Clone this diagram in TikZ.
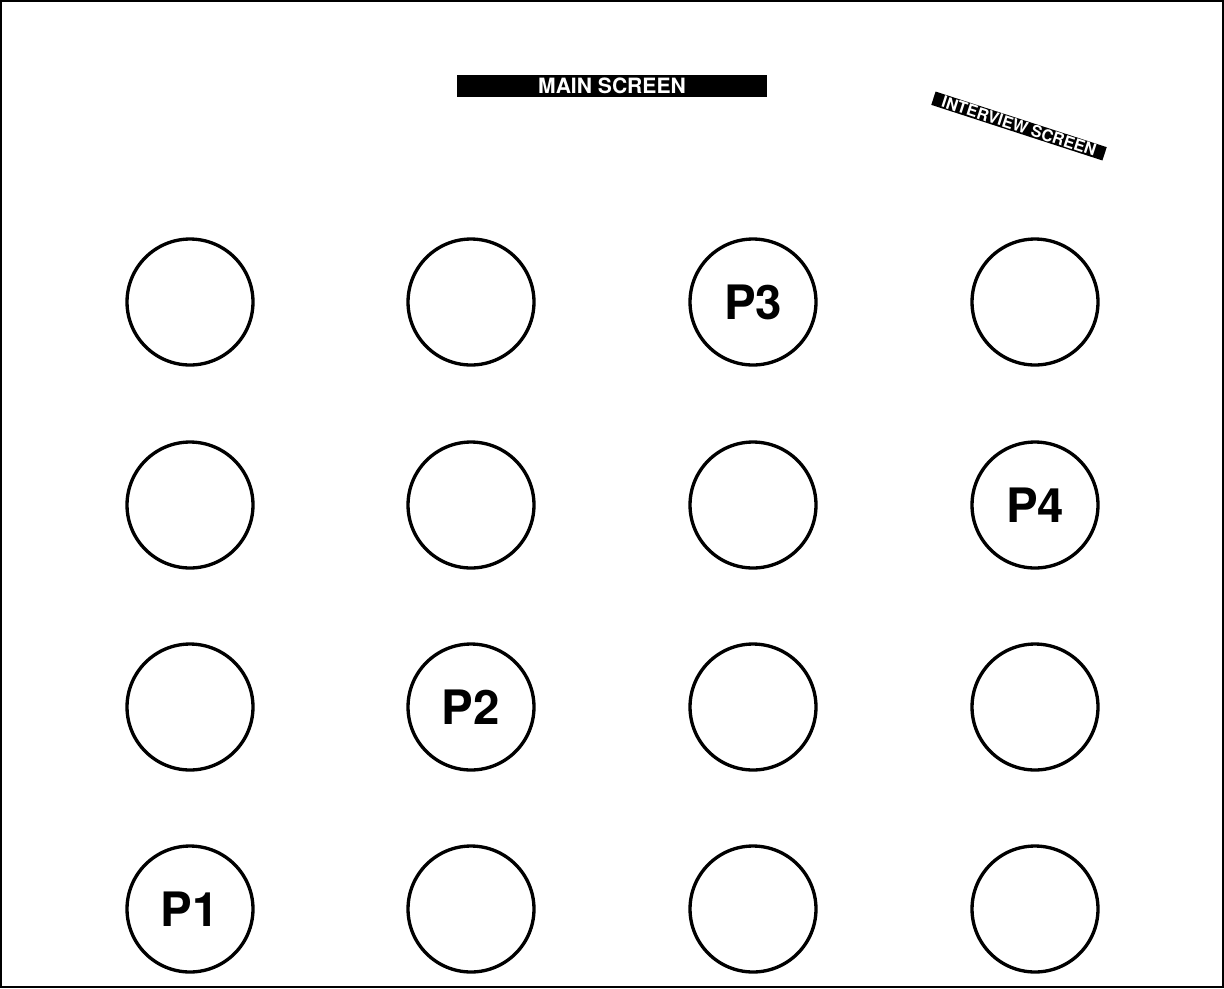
\documentclass[tikz,border=0pt]{standalone}
\usepackage{fontspec}
\setmainfont{TeX Gyre Heros}
\usepackage{xcolor}
\tikzset{
 seat/.style={draw=black, circle, line width=1.9pt, minimum size=2.52cm, inner sep=0pt},
 player/.style={font=\bfseries\fontsize{27}{27}\selectfont},
 screenbar/.style={fill=black, text=white, inner sep=0pt, font=\bfseries}
}
\begin{document}
\begin{tikzpicture}[x=0.02cm,y=-0.02cm]
\useasboundingbox (0,0) rectangle (1224,988);
\draw[line width=1.4pt] (1.2,1.2) rectangle (1222.8,986.8);
% screens
\node[screenbar, minimum width=6.2cm, minimum height=0.44cm, font=\bfseries\fontsize{12}{12}\selectfont] (main) at (612,86) {MAIN SCREEN};
\node[screenbar, rotate=-18, minimum width=3.6cm, minimum height=0.28cm, font=\bfseries\fontsize{9.2}{9.2}\selectfont] (interview) at (1019,126) {INTERVIEW SCREEN};
% seats
\foreach \cx [count=\c] in {190,471,753,1035}{
  \foreach \cy [count=\r] in {302,505,707,909}{
    \node[seat] (seat-\r-\c) at (\cx,\cy) {};
  }
}
\node[player] (p1) at (seat-4-1) {P1};
\node[player] (p2) at (seat-3-2) {P2};
\node[player] (p3) at (seat-1-3) {P3};
\node[player] (p4) at (seat-2-4) {P4};
\end{tikzpicture}
\end{document}
